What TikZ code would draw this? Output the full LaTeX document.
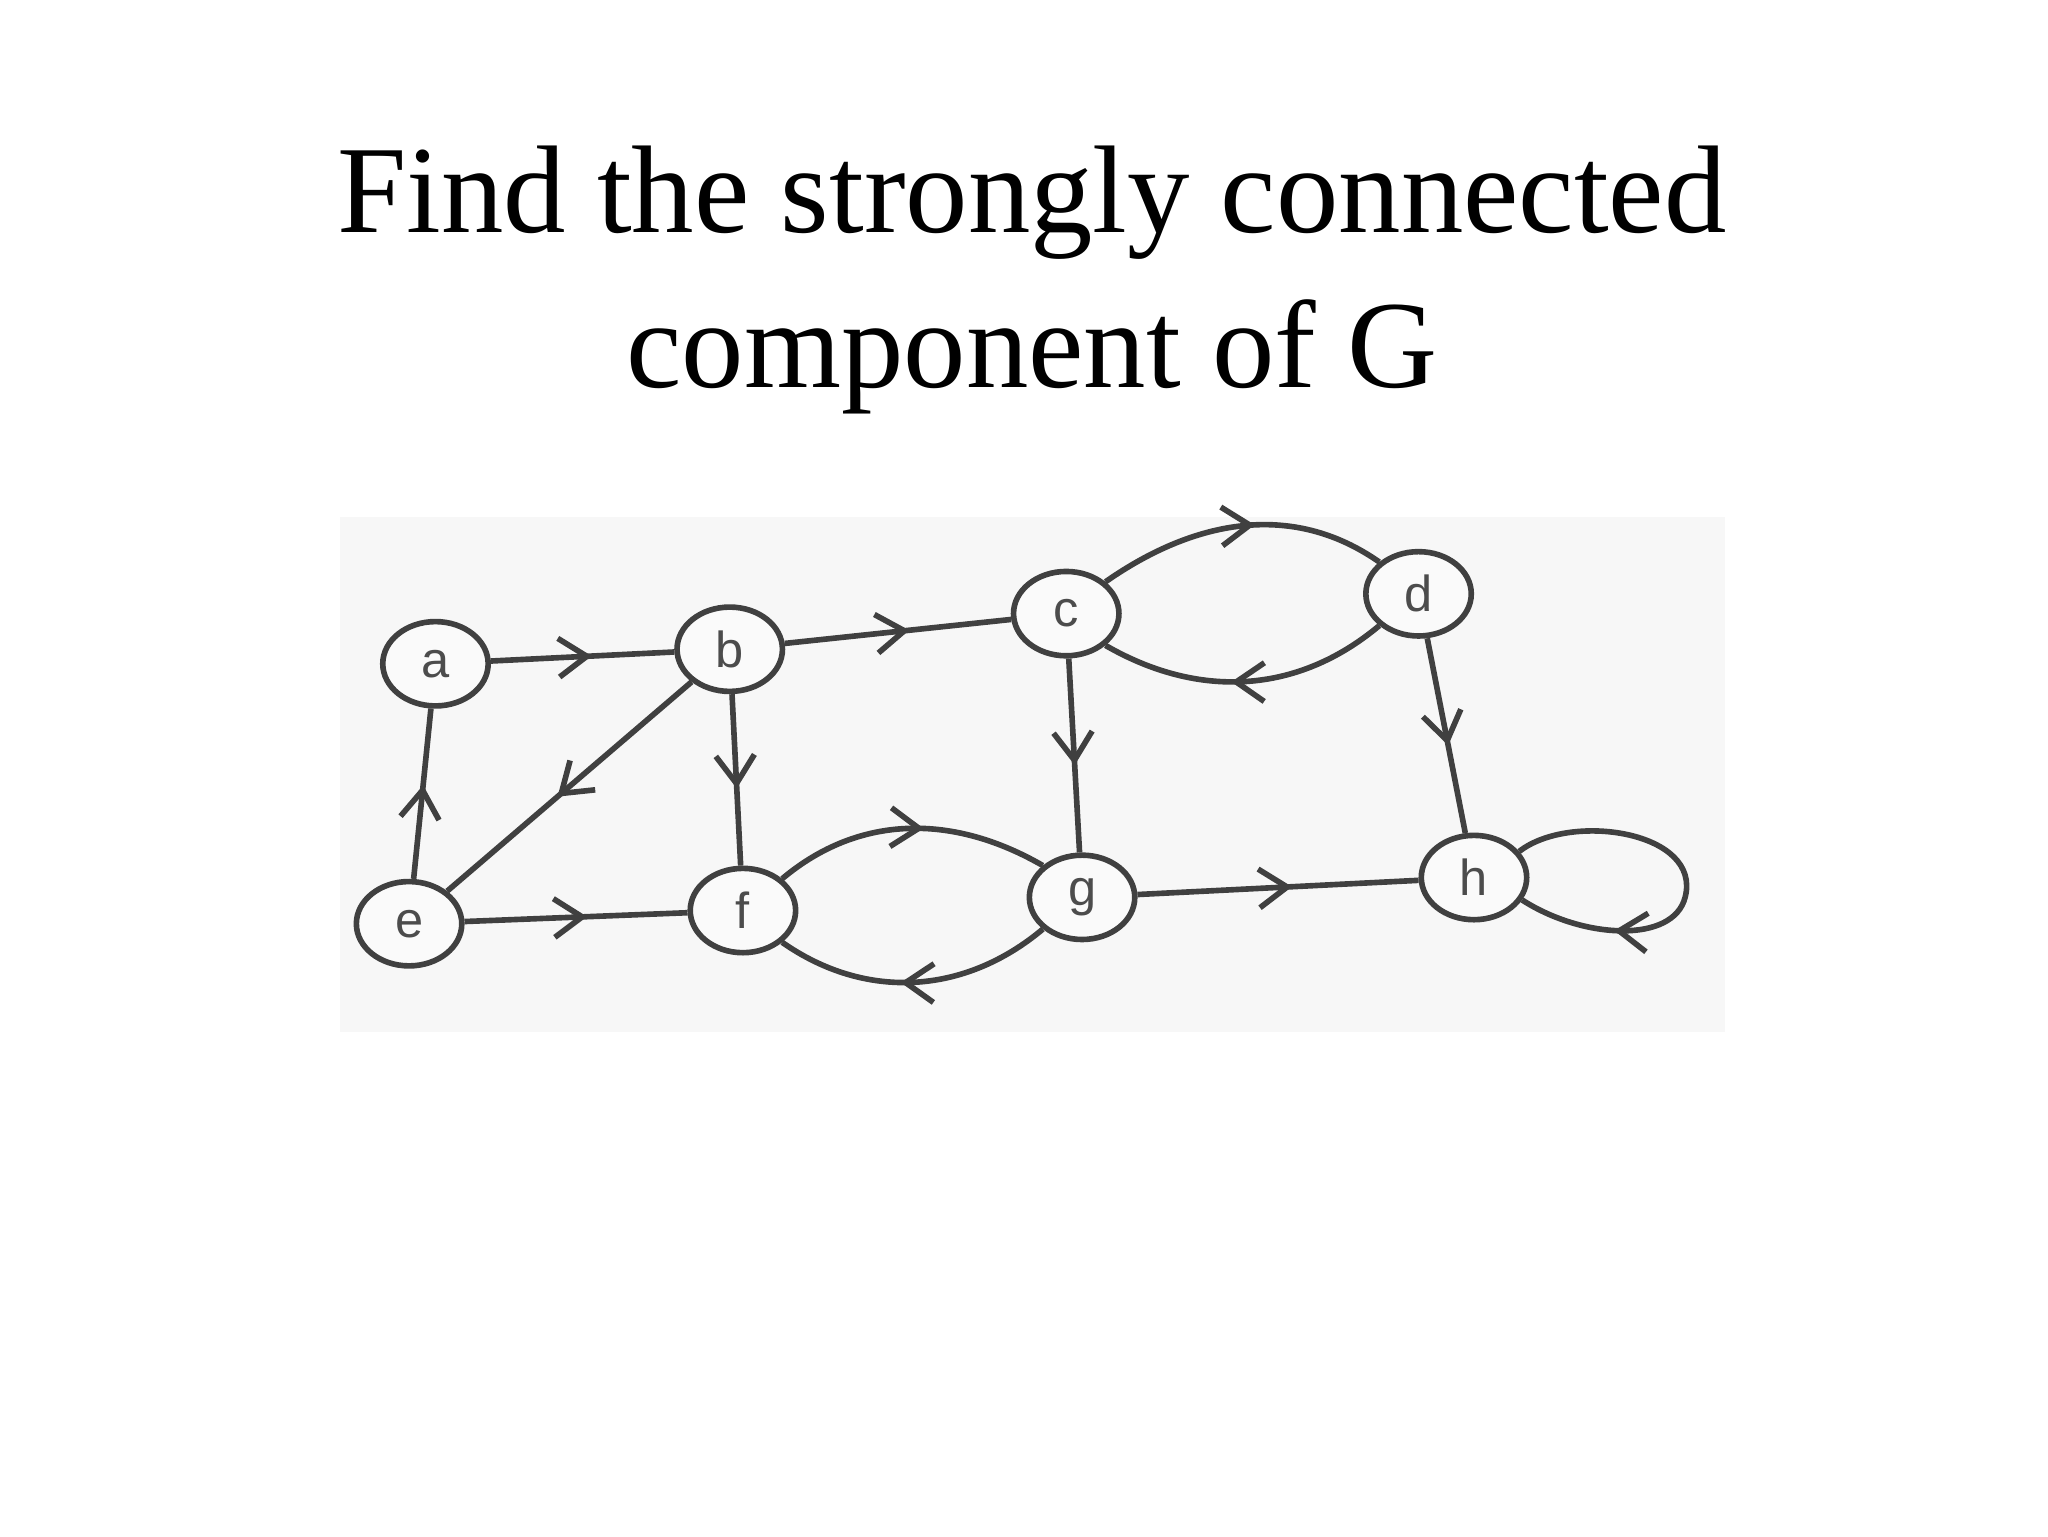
\documentclass[tikz,border=0pt]{standalone}
\usepackage{fontspec}
\setmainfont{Liberation Serif}
\newfontfamily\lab{Liberation Sans}
\usetikzlibrary{decorations.markings,arrows.meta,shapes.geometric}
\begin{document}
\begin{tikzpicture}[x=0.0132cm,y=-0.0132cm,
  vtx/.style={draw=black!75,line width=1.6pt,ellipse,minimum width=30pt,minimum height=24pt,inner sep=0pt,fill=gray!4,font=\lab\Large,text=black!70},
  edg/.style={draw=black!75,line width=1.6pt,postaction={decorate},decoration={markings,mark=at position 0.55 with {\arrow{Straight Barb[length=8pt,width=11pt,line width=1.6pt]}}}},
  loopedg/.style={draw=black!75,line width=1.6pt,postaction={decorate},decoration={markings,mark=at position 0.75 with {\arrow{Straight Barb[length=8pt,width=11pt,line width=1.6pt]}}}}]
\useasboundingbox (0,0) rectangle (1552,1164);
\fill[gray!6] (258,392) rectangle (1307,782);
\node[font=\fontsize{35.5}{44}\selectfont,align=center] (title) at (782,212) {Find the strongly connected\\component of G};
\node[vtx] (a) at (330,503) {a};
\node[vtx] (b) at (553,492) {b};
\node[vtx] (c) at (808,465) {c};
\node[vtx] (d) at (1075,450) {d};
\node[vtx] (e) at (310,700) {e};
\node[vtx] (f) at (563,690) {f};
\node[vtx] (g) at (820,680) {g};
\node[vtx] (h) at (1117,665) {h};
\draw[edg] (a) -- (b);
\draw[edg] (b) -- (c);
\draw[edg] (c.north east) to[out=35,in=145] (d.north west);
\draw[edg] (d.south west) to[out=-140,in=-30] (c.south east);
\draw[edg] (c) -- (g);
\draw[edg] (d) -- (h);
\draw[edg] (b) -- (e);
\draw[edg] (b) -- (f);
\draw[edg] (e) -- (a);
\draw[edg] (e) -- (f);
\draw[edg] (f.north east) to[out=40,in=150] (g.north west);
\draw[edg] (g.south west) to[out=-140,in=-35] (f.south east);
\draw[edg] (g) -- (h);
\draw[loopedg] (h.30) .. controls (1190,615) and (1290,630) .. (1277,680) .. controls (1268,715) and (1200,712) .. (h.-25);
\end{tikzpicture}
\end{document}
